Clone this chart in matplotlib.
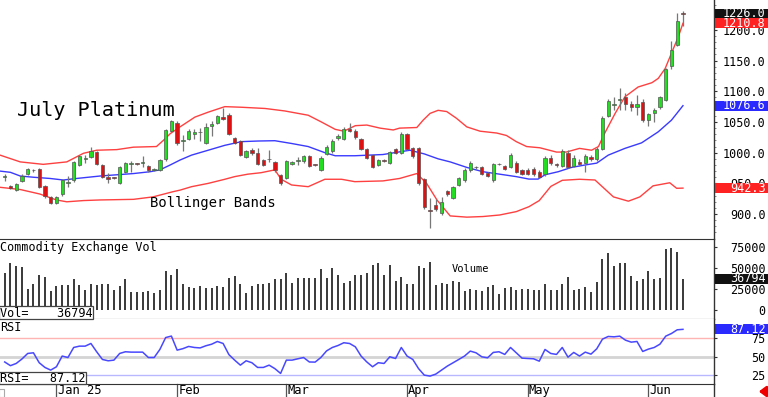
import matplotlib
matplotlib.use("Agg")
import matplotlib.pyplot as plt
import matplotlib.transforms as mtransforms
from matplotlib.patches import Rectangle, FancyArrowPatch
import numpy as np

plt.rcParams['font.family'] = ['DejaVu Sans Mono', 'DejaVu Sans']

# ---------------- data ----------------
opens = [960, 945, 939, 954, 966, 971, 973, 946, 927, 918, 932, 951, 955, 980, 989, 993, 1001, 980, 960, 960,
         951, 969, 982, 983, 983, 978, 972, 972, 989, 1035, 1049, 1019, 1022, 1031, 1033, 1016, 1044, 1049, 1058, 1062,
         1024, 1019, 993, 1005, 1000, 988, 990, 985, 963, 959, 982, 986, 986, 994, 981, 972, 998, 1002, 1024, 1022,
         1039, 1036, 1022, 1006, 996, 980, 988, 984, 1006, 1000, 1030, 1007, 1007, 957, 906, 915, 901, 937, 926, 947,
         955, 971, 976, 977, 967, 955, 981, 978, 977, 984, 972, 971, 973, 968, 965, 992, 981, 979, 999, 979,
         985, 983, 993, 989, 1006, 1060, 1077, 1085, 1091, 1080, 1075, 1082, 1053, 1065, 1074, 1086, 1142, 1176, 1227]
closes = [962, 943, 949, 962, 973, 972, 944, 930, 918, 928, 955, 953, 985, 994, 991, 1002, 982, 960, 957, 959,
          976, 983, 984, 982, 985, 971, 973, 988, 1037, 1052, 1015, 1021, 1036, 1033, 1034, 1042, 1047, 1059, 1055, 1030,
          1016, 997, 1002, 999, 982, 980, 989, 972, 950, 986, 985, 988, 994, 978, 980, 991, 1010, 1019, 1027, 1039,
          1035, 1025, 1006, 991, 977, 988, 987, 1001, 1000, 1030, 1006, 994, 951, 911, 905, 908, 919, 933, 944, 958,
          972, 983, 977, 966, 962, 982, 982, 973, 997, 969, 966, 966, 965, 961, 992, 983, 980, 1002, 977, 992,
          982, 995, 989, 1006, 1056, 1084, 1080, 1088, 1079, 1074, 1079, 1054, 1063, 1070, 1090, 1136, 1167, 1214, 1226]
highs = [966, 947, 951, 965, 975, 974, 975, 948, 929, 930, 957, 962, 987, 996, 997, 1009, 1003, 982, 967, 961,
         978, 985, 986, 984, 995, 980, 975, 990, 1039, 1054, 1051, 1029, 1038, 1038, 1041, 1049, 1052, 1062, 1073, 1065,
         1026, 1021, 1004, 1007, 1008, 990, 1005, 987, 965, 988, 987, 993, 997, 996, 982, 994, 1013, 1023, 1030, 1042,
         1048, 1038, 1024, 1008, 998, 990, 990, 1003, 1008, 1033, 1032, 1009, 1009, 959, 926, 925, 927, 940, 946, 960,
         975, 986, 979, 979, 969, 984, 984, 980, 1000, 986, 974, 975, 977, 972, 995, 997, 984, 1006, 1004, 996,
         990, 998, 996, 1009, 1060, 1088, 1091, 1105, 1098, 1084, 1094, 1087, 1065, 1073, 1093, 1138, 1182, 1228, 1231]
lows = [954, 941, 937, 952, 964, 969, 942, 926, 916, 916, 930, 944, 953, 978, 983, 991, 980, 958, 951, 957,
        949, 967, 969, 980, 976, 968, 970, 970, 987, 1033, 1013, 1002, 1020, 1022, 1019, 1014, 1027, 1047, 1053, 1028,
        1014, 995, 991, 997, 980, 978, 985, 969, 947, 957, 980, 980, 984, 976, 978, 970, 996, 1000, 1020, 1020,
        1033, 1023, 1004, 989, 975, 978, 985, 982, 998, 998, 1004, 992, 948, 908, 877, 905, 899, 930, 924, 945,
        953, 969, 974, 964, 960, 953, 980, 971, 975, 967, 964, 964, 962, 958, 962, 980, 976, 976, 975, 976,
        978, 969, 986, 986, 1004, 1058, 1070, 1070, 1070, 1068, 1061, 1050, 1043, 1050, 1071, 1084, 1137, 1173, 1206]

volumes = [44000, 55000, 52000, 51000, 25000, 30000, 41500, 39000, 22000, 28000,
           29000, 29000, 36000, 29000, 24000, 31000, 29000, 31000, 31000, 23000,
           28000, 37000, 21000, 21000, 21000, 22000, 20000, 24000, 46000, 41000,
           49000, 30000, 27000, 26000, 28000, 26000, 26000, 28000, 27000, 37500,
           40000, 31000, 20000, 28000, 31000, 31000, 32000, 36000, 36000, 44000,
           32000, 37500, 37500, 37500, 37500, 48000, 37500, 49500, 41000, 32000,
           34000, 41000, 41500, 44000, 53600, 55000, 41000, 53600, 34000, 39000,
           31000, 30000, 51600, 50000, 57000, 29000, 32000, 31000, 34000, 33000,
           22000, 25000, 24000, 22000, 27000, 29000, 19000, 26000, 27000, 23000,
           25000, 24500, 24000, 23000, 31000, 24000, 24000, 31000, 39000, 24000,
           25000, 27000, 21000, 33000, 60000, 68000, 51600, 55000, 56000, 40000,
           34000, 36000, 46000, 37000, 37500, 72000, 73000, 68500, 36794]

rsi = [43, 38, 41, 47, 54.5, 55.4, 42, 35.6, 32, 36.5, 51, 49, 62.6, 64.4, 64.4, 68, 56.8, 46.4, 44.6, 45.5,
       54.5, 56.8, 56.3, 56.3, 56.3, 49, 49, 60, 76, 78, 59, 61, 64, 62.6, 62, 64.9, 67, 70.7, 68, 53,
       45.5, 38.7, 44.6, 42, 35.6, 35.6, 38.7, 34, 27.5, 45.5, 45.5, 47.3, 49, 43, 42.8, 49, 58, 62.6, 65.3, 69,
       68, 63.5, 51, 43, 36.5, 42, 41, 50, 47.7, 62.6, 51, 46.4, 34, 25.2, 23.9, 26.6, 32, 37.4, 41.9, 46.4,
       51, 57.7, 55.4, 50, 48.6, 55.9, 56.8, 53.2, 62.6, 55.4, 48.2, 47.7, 47.3, 44.1, 59.9, 54.5, 53.2, 62.6, 49.5, 55.9,
       51, 56.3, 53.6, 60.8, 73.9, 77.5, 77, 77.9, 72.5, 69.8, 70.7, 57.2, 60.4, 62.6, 67.1, 77.9, 81.5, 86.5, 87.12]

upper_x = [-0.8, 2.7, 6.7, 10.8, 13.7, 16, 19.5, 22.4, 26.4, 27.6, 28.8, 30.5, 33.1, 35.4, 38.3, 41.2, 45.3, 48.7,
           52.8, 55.1, 57.5, 59, 61, 63, 65.3, 67.6, 68.7, 71.7, 72.8, 74, 75.4, 76.9, 78.6, 80.4, 82.7, 85.6,
           87.3, 89, 90.8, 93.1, 96, 97.7, 100, 102.1, 103.3, 104.4, 106.2, 107.9, 110.2, 112.6, 113.7, 114.9,
           116, 117.2, 118]
upper_v = [996, 985, 981, 985, 999, 1004, 1005, 1009, 1010, 1020, 1031, 1042, 1058, 1066, 1075, 1074, 1072, 1068,
           1061, 1050, 1038, 1035, 1044, 1045, 1040, 1037, 1040, 1041, 1053, 1064, 1069, 1067, 1056, 1042, 1035, 1032,
           1028, 1018, 1010, 1008, 1001, 1001, 1007, 1004, 1010, 1032, 1064, 1091, 1107, 1114, 1121, 1137,
           1162, 1189, 1210.8]
mid_x = [-0.8, 1, 2.7, 5, 7.9, 10.2, 12.5, 16.6, 22.4, 25.3, 27, 28.8, 30.5, 32.5, 35.4, 38.3, 41.2, 44.1, 47,
         49.9, 52.8, 55.7, 57.5, 60.9, 65.8, 70.5, 73, 75.4, 77.5, 80.4, 83.2, 86.1, 89, 91.2, 92.8, 94, 96.3,
         98.6, 101, 103, 105, 107.9, 110.8, 113.7, 116, 118]
mid_v = [970, 968, 962, 960, 958, 955.5, 958, 962, 966, 969, 972, 980, 988, 996, 1004, 1012, 1018, 1019, 1019.5,
         1015, 1010, 1000, 995, 995, 997, 1004, 998, 990, 985, 976, 969, 965, 961, 957, 957, 964, 969,
         976, 980, 983, 996, 1007, 1016, 1034, 1053, 1076.6]
lower_x = [-0.8, 2.7, 6.1, 9, 10.8, 13.7, 16.6, 22.4, 25.8, 29.3, 30.5, 32.5, 35.4, 38.3, 40, 42.3, 44.6, 47,
           48.1, 49.9, 52.8, 55.7, 58.6, 60.9, 65.8, 68.7, 71.7, 73.4, 75.2, 77.5, 80.4, 83.2, 86.1, 89, 91.2,
           93, 95, 97, 100, 102.7, 105.9, 108.5, 110.5, 112.8, 115.7, 116.9, 118]
lower_v = [943.6, 940, 932.7, 923, 920, 922, 923, 924, 928, 936.5, 939, 944.6, 950, 956.7, 961, 965, 967.4, 972,
           956.7, 947.4, 944.6, 956.7, 956.7, 952.8, 954, 958, 966, 950, 923, 897, 895, 896, 898.5, 904, 912,
           922, 945, 955, 956.7, 955.5, 928, 921, 928, 946, 951, 942, 942.3]

month_idx = [9, 30, 49, 70, 91, 112]
month_labels = ['Jan 25', 'Feb', 'Mar', 'Apr', 'May', 'Jun']

price_ticks = [900, 950, 1000, 1050, 1100, 1150, 1200]
vol_ticks = [0, 25000, 50000, 75000]
rsi_ticks = [25, 50, 75]

last_close = 1226.0
last_upper = 1210.8
last_mid = 1076.6
last_lower = 942.3
last_vol = 36794
last_rsi = 87.12

# ---------------- figure ----------------
W, H = 768, 397
fig = plt.figure(figsize=(W / 100, H / 100), dpi=100)
fig.patch.set_facecolor('white')


def fy(py):
    return 1 - py / H


AXW = 714 / W
ax_p = fig.add_axes([0, fy(239), AXW, 239 / H])
ax_v = fig.add_axes([0, fy(319.3), AXW, (319.3 - 239) / H])
ax_r = fig.add_axes([0, fy(384.3), AXW, (384.3 - 319.3) / H])

XL = (-0.817, 123.4)
idx = np.arange(len(closes))
FS = 8.5

for ax in (ax_p, ax_v, ax_r):
    ax.set_xlim(*XL)
    ax.set_xticks([])
    ax.set_facecolor('white')
    ax.yaxis.tick_right()
    for s in ('left', 'top', 'bottom'):
        ax.spines[s].set_visible(False)
    ax.spines['right'].set_color('#333333')
    ax.spines['right'].set_linewidth(1.0)

# ---- price panel ----
ax_p.set_ylim(859.4, 1248.7)
o = np.array(opens, float)
c = np.array(closes, float)
h = np.array(highs, float)
l = np.array(lows, float)
up = c >= o
ax_p.vlines(idx, l, h, color='#777777', lw=0.9, zorder=2)
bottom = np.minimum(o, c)
height = np.maximum(np.abs(c - o), 1.3)
cols = np.where(up, '#22dd22', '#dd1111')
ax_p.bar(idx, height, bottom=bottom, width=0.58, color=cols, edgecolor='#555555', linewidth=0.5, zorder=3)

ax_p.plot(upper_x, upper_v, color='#ff4040', lw=1.0, zorder=1)
ax_p.plot(lower_x, lower_v, color='#ff4040', lw=1.0, zorder=1)
ax_p.plot(mid_x, mid_v, color='#3a3aff', lw=1.0, zorder=1)

ax_p.set_yticks(price_ticks)
ax_p.set_yticklabels(['%.1f' % t for t in price_ticks])
ax_p.set_yticks(np.arange(870, 1250, 10), minor=True)

# ---- volume panel ----
ax_v.set_ylim(-11430, 84160)
ax_v.vlines(idx, 0, volumes, color='#2a2a2a', lw=1.3)
ax_v.set_yticks(vol_ticks)
ax_v.set_yticklabels([str(t) for t in vol_ticks])
ax_v.spines['top'].set_visible(True)
ax_v.spines['bottom'].set_visible(True)
ax_v.spines['top'].set_color('#333333')
ax_v.spines['bottom'].set_color('#333333')

# ---- RSI panel ----
ax_r.set_ylim(12.8, 100.7)
ax_r.axhline(75, color='#ffb4b4', lw=1.0, zorder=1)
ax_r.axhline(50, color='#d4d4d4', lw=2.0, zorder=1)
ax_r.axhline(25, color='#b8b8ff', lw=1.0, zorder=1)
ax_r.plot(idx, rsi, color='#4848ff', lw=1.1, zorder=3)
ax_r.set_yticks(rsi_ticks)
ax_r.set_yticklabels([str(t) for t in rsi_ticks])
ax_r.spines['bottom'].set_visible(True)
ax_r.spines['bottom'].set_color('#333333')

# tick styling: labels right-aligned at x ~ 765 px
for ax in (ax_p, ax_v, ax_r):
    ax.tick_params(axis='y', which='major', direction='out', length=2.5, width=0.8,
                   colors='#333333', labelcolor='black', labelsize=FS, pad=34.6)
    ax.tick_params(axis='y', which='minor', direction='out', length=1.5, width=0.6, colors='#777777')
    for t in ax.yaxis.get_major_ticks():
        t.label2.set_horizontalalignment('right')
        t.label2.set_fontfamily('DejaVu Sans Mono')

# month labels & separators below RSI panel
bl = mtransforms.blended_transform_factory(ax_r.transData, ax_r.transAxes)
for mi, ml in zip(month_idx, month_labels):
    ax_r.plot([mi, mi], [0, -0.2], transform=bl, color='#555555', lw=0.9, clip_on=False)
    ax_r.text(mi + 0.2, -0.148, ml, transform=bl, fontsize=8.7, ha='left', va='baseline', clip_on=False)
ax_r.plot([1, 1], [0, -0.2], transform=ax_r.transAxes, color='#333333', lw=1.0, clip_on=False)


# value boxes on the right axis
def value_box(ax, val, text, bg, px_per_unit):
    hh = 5.0 / px_per_unit
    tr = mtransforms.blended_transform_factory(ax.transAxes, ax.transData)
    ax.add_patch(Rectangle((715 / 714, val - hh), 0.08, 2 * hh, transform=tr, facecolor=bg,
                           edgecolor='none', clip_on=False, zorder=10))
    ax.text(765.5 / 714, val, text, transform=tr, ha='right', va='center', color='white',
            fontsize=FS, clip_on=False, zorder=11)


ppu_p = 239 / (1248.7 - 859.4)
ppu_v = (319.3 - 239) / (84160 + 11430)
ppu_r = (384.3 - 319.3) / (100.7 - 12.8)
value_box(ax_p, last_close, '%.1f' % last_close, '#111111', ppu_p)
value_box(ax_p, last_upper, '%.1f' % last_upper, '#ff2222', ppu_p)
value_box(ax_p, last_mid, '%.1f' % last_mid, '#2a2aff', ppu_p)
value_box(ax_p, last_lower, '%.1f' % last_lower, '#ff2222', ppu_p)
value_box(ax_v, last_vol, str(last_vol), '#111111', ppu_v)
value_box(ax_r, last_rsi, '%.2f' % last_rsi, '#2a2aff', ppu_r)

# texts
fig.text(17 / W, fy(115.7), 'July Platinum', fontsize=14.5, ha='left', va='baseline')
fig.text(150 / W, fy(207), 'Bollinger Bands', fontsize=10, ha='left', va='baseline')
fig.text(0.5 / W, fy(250.7), 'Commodity Exchange Vol', fontsize=FS, ha='left', va='baseline')
fig.text(452 / W, fy(271.7), 'Volume', fontsize=7.5, ha='left', va='baseline')
fig.text(0.5 / W, fy(330.7), 'RSI', fontsize=FS, ha='left', va='baseline')

# readout boxes bottom-left of panels
fig.patches.append(Rectangle((-1 / W, fy(319)), 94 / W, 13 / H, transform=fig.transFigure,
                             facecolor='white', edgecolor='#444444', lw=0.9, zorder=5))
fig.text(0.5 / W, fy(316.7), 'Vol=    %d' % last_vol, fontsize=FS, ha='left', va='baseline', zorder=6)
fig.patches.append(Rectangle((-1 / W, fy(384.3)), 87 / W, 12.6 / H, transform=fig.transFigure,
                             facecolor='white', edgecolor='#444444', lw=0.9, zorder=5))
fig.text(0.5 / W, fy(382.2), 'RSI=   %.2f' % last_rsi, fontsize=FS, ha='left', va='baseline', zorder=6)
fig.patches.append(Rectangle((-1 / W, 0), 5 / W, 8.5 / H, transform=fig.transFigure,
                             facecolor='white', edgecolor='#aaaaaa', lw=0.8, zorder=5))

# red arrow bottom-right
fig.patches.append(FancyArrowPatch((767, 5.5), (756, 5.5), transform=None,
                                   arrowstyle='-|>,head_length=4,head_width=3',
                                   color='#ee0000', lw=2.2))

fig.savefig('out.png', dpi=100, facecolor='white')
